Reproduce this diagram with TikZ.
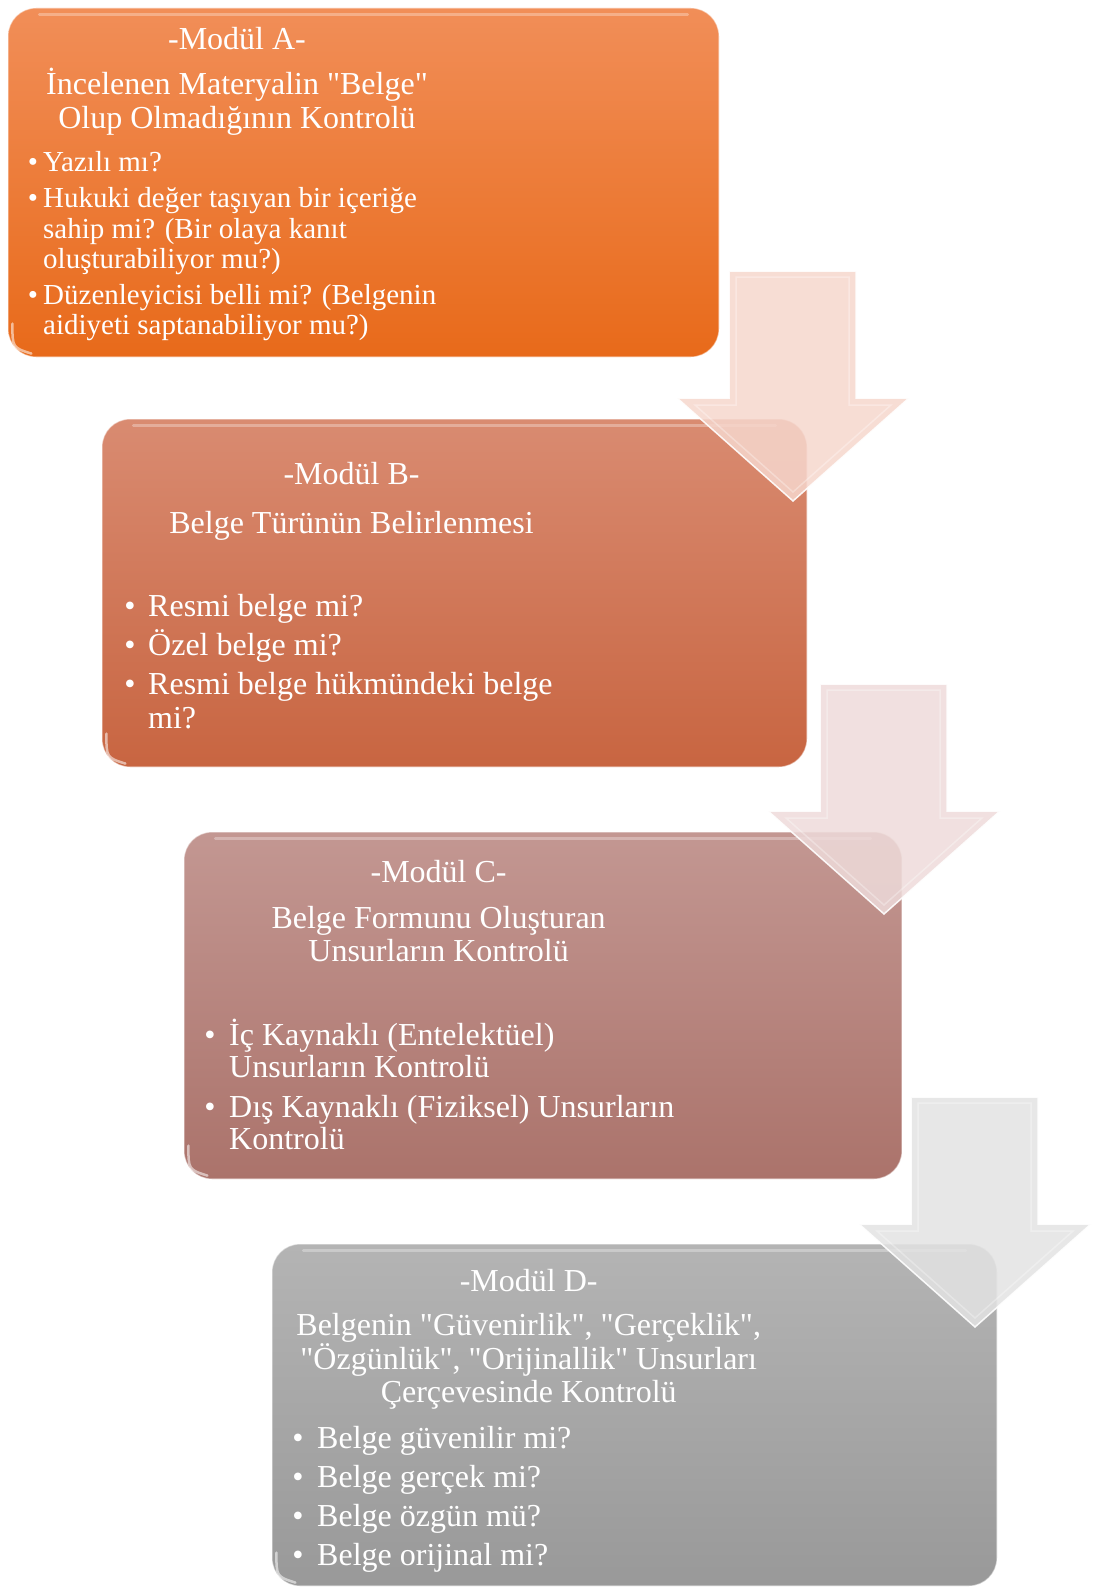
\documentclass[tikz,border=0pt]{standalone}
\usepackage{fontspec}
\setmainfont{Liberation Serif}
\font\serifq="Liberation Serif" at 32pt
\definecolor{aTop}{RGB}{241,142,88}
\definecolor{aBot}{RGB}{232,106,26}
\definecolor{bTop}{RGB}{217,139,113}
\definecolor{bBot}{RGB}{200,101,65}
\definecolor{cTop}{RGB}{195,151,146}
\definecolor{cBot}{RGB}{171,115,107}
\definecolor{dTop}{RGB}{180,180,180}
\definecolor{dBot}{RGB}{153,153,153}
\definecolor{arA}{RGB}{246,215,205}
\definecolor{arB}{RGB}{238,219,218}
\definecolor{arC}{RGB}{227,227,227}
\newcommand{\blockarrow}[3]{%
  \fill[#3, opacity=0.85] (#1,#2) -- ++(127,0) -- ++(0,127) -- ++(53,0) -- ++(-116,103) -- ++(-116,-103) -- ++(52,0) -- cycle;
  \draw[white, opacity=0.9, line width=1.5pt, line join=miter] (#1,#2) -- ++(127,0) -- ++(0,127) -- ++(53,0) -- ++(-116,103) -- ++(-116,-103) -- ++(52,0) -- cycle;
  \draw[white, opacity=0.3, line width=1.5pt] (#1+7,#2+6) -- ++(113,0) -- ++(0,128) -- ++(42,0) -- ++(-98,87) -- ++(-98,-87) -- ++(41,0) -- cycle;
}
\begin{document}
\begin{tikzpicture}[x=1pt,y=-1pt,
  boxstyle/.style={rounded corners=28pt, inner sep=0pt, draw=white, draw opacity=0.5, line width=1.2pt},
  ttl/.style={text=white, inner sep=0pt, anchor=base, font=\fontsize{32}{38}\selectfont},
  ttlq/.style={text=white, inner sep=0pt, anchor=base, font=\serifq},
  txt/.style={text=white, inner sep=0pt, anchor=base west, font=\fontsize{32}{38}\selectfont},
  txa/.style={text=white, inner sep=0pt, anchor=base west, font=\fontsize{29}{34}\selectfont},
  blt/.style={text=white, inner sep=0pt, anchor=base, font=\fontsize{32}{38}\selectfont},
  blta/.style={text=white, inner sep=0pt, anchor=base, font=\fontsize{29}{34}\selectfont},
  gloss/.style={white, opacity=0.3, line width=3pt, line cap=round},
  cornerhl/.style={white, opacity=0.55, line width=2.5pt, line cap=round}
]
\useasboundingbox (0,0) rectangle (1096,1589);

% boxes
\node[boxstyle, top color=aTop, bottom color=aBot, minimum width=711pt, minimum height=349pt] (boxA) at (363.5,182.5) {};
\node[boxstyle, top color=bTop, bottom color=bBot, minimum width=705pt, minimum height=348pt] (boxB) at (454.5,593) {};
\node[boxstyle, top color=cTop, bottom color=cBot, minimum width=718pt, minimum height=347pt] (boxC) at (543,1005.5) {};
\node[boxstyle, top color=dTop, bottom color=dBot, minimum width=725pt, minimum height=342pt] (boxD) at (634.5,1415) {};

\foreach \b in {boxA,boxB,boxC,boxD}{
  \draw[gloss] ([xshift=32pt,yshift=-7pt]\b.north west) -- ([xshift=-32pt,yshift=-7pt]\b.north east);
  \draw[cornerhl] ([xshift=5pt,yshift=34pt]\b.south west) .. controls ([xshift=5pt,yshift=10pt]\b.south west) .. ([xshift=24pt,yshift=4pt]\b.south west);
}

% arrows
\blockarrow{729}{271}{arA}
\blockarrow{820}{684}{arB}
\blockarrow{911}{1097}{arC}

% Box A text
\node[ttl] (aT) at (237,49.5) {-Modül A-};
\node[ttlq] (aS1) at (237,95) {İncelenen Materyalin "Belge"};
\node[ttl] (aS2) at (237,128.5) {Olup Olmadığının Kontrolü};
\node[blta] (aB1) at (33,171.5) {•};
\node[txa] (aL1) at (43,171.5) {Yazılı mı?};
\node[blta] (aB2) at (33,208) {•};
\node[txa] (aL2) at (43,208) {Hukuki değer taşıyan bir içeriğe};
\node[txa] (aL3) at (43,238.5) {sahip mi? (Bir olaya kanıt};
\node[txa] (aL4) at (43,268.5) {oluşturabiliyor mu?)};
\node[blta] (aB3) at (33,304.5) {•};
\node[txa] (aL5) at (43,304.5) {Düzenleyicisi belli mi? (Belgenin};
\node[txa] (aL6) at (43,334.5) {aidiyeti saptanabiliyor mu?)};

% Box B text
\node[ttl] (bT) at (351.5,484) {-Modül B-};
\node[ttl] (bS) at (351.5,533.5) {Belge Türünün Belirlenmesi};
\node[blt] (bB1) at (130,616.7) {•};
\node[txt] (bL1) at (148,616.7) {Resmi belge mi?};
\node[blt] (bB2) at (130,655.2) {•};
\node[txt] (bL2) at (148,655.2) {Özel belge mi?};
\node[blt] (bB3) at (130,694.7) {•};
\node[txt] (bL3) at (148,694.7) {Resmi belge hükmündeki belge};
\node[txt] (bL4) at (148,728.1) {mi?};

% Box C text
\node[ttl] (cT) at (438.6,882) {-Modül C-};
\node[ttl] (cS1) at (438.6,928.7) {Belge Formunu Oluşturan};
\node[ttl] (cS2) at (438.6,961) {Unsurların Kontrolü};
\node[blt] (cB1) at (210,1045.2) {•};
\node[txt] (cL1) at (229,1045.2) {İç Kaynaklı (Entelektüel)};
\node[txt] (cL2) at (229,1077.6) {Unsurların Kontrolü};
\node[blt] (cB2) at (210,1117.1) {•};
\node[txt] (cL3) at (229,1117.1) {Dış Kaynaklı (Fiziksel) Unsurların};
\node[txt] (cL4) at (229,1149.5) {Kontrolü};

% Box D text
\node[ttl] (dT) at (528.7,1291.3) {-Modül D-};
\node[ttlq] (dS1) at (528.7,1335.9) {Belgenin "Güvenirlik", "Gerçeklik",};
\node[ttlq] (dS2) at (528.7,1369.3) {"Özgünlük", "Orijinallik" Unsurları};
\node[ttl] (dS3) at (528.7,1402.7) {Çerçevesinde Kontrolü};
\node[blt] (dB1) at (298,1448.3) {•};
\node[txt] (dL1) at (317,1448.3) {Belge güvenilir mi?};
\node[blt] (dB2) at (298,1487.8) {•};
\node[txt] (dL2) at (317,1487.8) {Belge gerçek mi?};
\node[blt] (dB3) at (298,1526.3) {•};
\node[txt] (dL3) at (317,1526.3) {Belge özgün mü?};
\node[blt] (dB4) at (298,1565.8) {•};
\node[txt] (dL4) at (317,1565.8) {Belge orijinal mi?};
\end{tikzpicture}
\end{document}
